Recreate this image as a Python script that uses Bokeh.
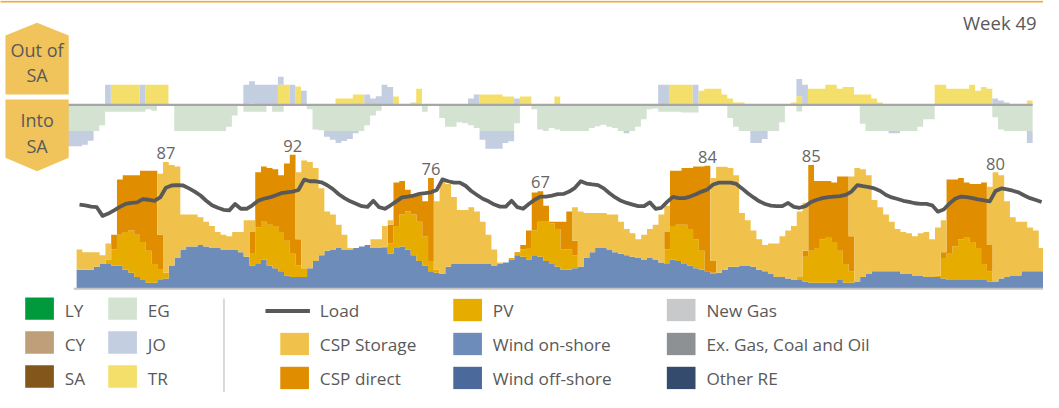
import numpy as np
from bokeh.plotting import figure
from bokeh.models import Range1d
from bokeh.embed import file_html
from bokeh.resources import INLINE
from bokeh.core.properties import value

# ---------------------------------------------------------------- data
week_label = "Week 49"
hours = list(range(168))

wind_onshore = [
    13, 13, 13, 15, 17, 17, 16, 16, 13, 11, 8, 6, 4, 4, 6, 7, 16, 21, 27, 29, 29, 30, 29, 28,
    28, 27, 27, 27, 25, 22, 16, 17, 20, 16, 14, 12, 9, 8, 8, 8, 14, 19, 23, 26, 27, 28, 27, 27,
    28, 29, 30, 28, 28, 28, 24, 28, 29, 27, 23, 19, 16, 12, 11, 10, 15, 17, 17, 17, 17, 17, 17, 17,
    16, 17, 18, 20, 23, 22, 20, 23, 22, 19, 17, 15, 13, 13, 14, 15, 21, 25, 28, 28, 27, 25, 24, 23,
    22, 21, 20, 21, 20, 18, 17, 20, 19, 17, 16, 14, 13, 12, 10, 11, 13, 15, 15, 16, 16, 15, 13, 12,
    10, 8, 8, 7, 6, 6, 5, 4, 4, 4, 4, 4, 6, 4, 4, 5, 8, 10, 12, 12, 12, 12, 12, 10,
    10, 9, 9, 8, 8, 8, 7, 6, 6, 6, 6, 6, 6, 6, 5, 5, 7, 8, 9, 9, 12, 12, 12, 12,
]
pv = [
    0, 0, 0, 0, 0, 3, 11, 21, 26, 29, 29, 26, 22, 13, 7, 4, 0, 0, 0, 0, 0, 0, 0, 0,
    0, 0, 0, 0, 0, 0, 8, 25, 26, 28, 29, 27, 24, 16, 8, 6, 0, 0, 0, 0, 0, 0, 0, 0,
    0, 0, 0, 0, 0, 1, 7, 15, 22, 26, 28, 27, 20, 7, 2, 0, 0, 0, 0, 0, 0, 0, 0, 0,
    0, 0, 0, 1, 1, 5, 8, 17, 24, 27, 28, 26, 14, 14, 9, 0, 0, 0, 0, 0, 0, 0, 0, 0,
    0, 0, 0, 0, 0, 0, 10, 23, 25, 27, 25, 20, 13, 0, 1, 0, 0, 0, 0, 0, 0, 0, 0, 0,
    0, 0, 0, 0, 0, 2, 17, 22, 24, 30, 31, 28, 20, 13, 8, 0, 0, 0, 0, 0, 0, 0, 0, 0,
    0, 0, 0, 0, 0, 1, 14, 18, 23, 28, 29, 26, 22, 11, 7, 0, 0, 0, 0, 0, 0, 0, 0, 0,
]
csp_direct = [
    0, 0, 0, 0, 0, 0, 10, 38, 39, 38, 41, 49, 55, 64, 24, 0, 0, 0, 0, 0, 0, 0, 0, 0,
    0, 0, 0, 0, 0, 0, 15, 38, 38, 39, 39, 39, 53, 68, 18, 0, 0, 0, 0, 0, 0, 0, 0, 0,
    0, 0, 0, 0, 0, 0, 13, 30, 23, 15, 13, 18, 24, 57, 0, 0, 0, 0, 0, 0, 0, 0, 0, 0,
    0, 0, 0, 0, 1, 3, 12, 26, 21, 11, 1, 5, 19, 26, 10, 0, 0, 0, 0, 0, 0, 0, 0, 0,
    0, 0, 0, 0, 0, 0, 12, 38, 37, 39, 42, 50, 58, 72.4, 8, 0, 0, 0, 0, 0, 0, 0, 0, 0,
    0, 0, 0, 0, 0, 0, 4, 59, 46, 40, 39, 41, 51, 60, 24, 0, 0, 0, 0, 0, 0, 0, 0, 0,
    0, 0, 0, 0, 0, 0, 4, 51, 46, 42, 38, 40, 44, 56, 18, 0, 0, 0, 0, 0, 0, 0, 0, 0,
]
csp_storage = [
    14, 12, 12, 10, 6, 11, 0, 0, 0, 0, 0, 0, 0, 0, 42, 76, 69, 63, 24, 22, 22, 19, 17, 15,
    11, 10, 9, 12, 14, 25, 8, 0, 0, 0, 0, 0, 0, 0, 46, 74, 73, 64, 46, 27, 24, 16, 10, 1,
    0, 0, 0, 6, 6, 14, 3, 0, 0, 0, 0, 0, 0, 0, 47, 64, 57, 46, 37, 37, 39, 36, 29, 20,
    11, 1, 0, 0, 0, 0, 0, 0, 0, 0, 0, 0, 0, 0, 23, 38, 31, 27, 24, 24, 24, 26, 22, 18,
    16, 13, 17, 20, 24, 33, 18, 0, 0, 0, 0, 0, 0, 0, 57, 72.8, 70.8, 68, 63, 36, 31, 25, 21, 18,
    21, 23, 28, 33, 37, 45, 33, 0, 0, 0, 0, 0, 0, 0, 41, 78, 74, 68, 49, 44, 39, 34, 29, 29,
    28, 27, 29, 31, 26, 33, 22, 0, 0, 0, 0, 0, 0, 0, 40, 75, 71, 52, 40, 37, 34, 30, 28, 16,
]
load = [
    57.8, 57.3, 56.4, 56, 50, 51.6, 53.8, 56.2, 58.2, 58.9, 59.3, 61.6, 61.1, 60.4, 62.7, 69.3, 70.9, 71.1, 70.9, 68.9, 66.7, 64, 60.4, 57.3,
    55.6, 54.2, 53.8, 58.2, 54.9, 54.9, 57.3, 60.4, 61.8, 62.7, 64, 65.6, 66.2, 66.7, 67.8, 74.9, 73.8, 73.8, 73.1, 71.1, 68.4, 64.9, 62.2, 60,
    58.4, 56.7, 56.2, 60.4, 56, 54.9, 57.3, 60, 62.7, 63.3, 64, 65.1, 65.6, 66.2, 67.8, 75.1, 73.8, 72.9, 72.9, 70.7, 67.1, 64.4, 61.8, 60,
    57.8, 56.4, 56.4, 60.4, 56, 54.9, 58.2, 61.1, 63.3, 63.3, 64, 64.9, 65.1, 66.7, 69.3, 73.8, 72.2, 71.6, 71.1, 68.9, 65.6, 62.7, 60.4, 58.9,
    57.8, 56.7, 56.7, 59.3, 54.9, 55.6, 59.6, 63.1, 62.2, 62.2, 63.3, 64.9, 66.7, 68.2, 71.6, 72.9, 72.9, 72.9, 72, 68.9, 65.6, 62.7, 60, 58.2,
    57.1, 56.7, 56.7, 58.9, 56.2, 55.6, 56.7, 59.6, 61.1, 62.2, 62.9, 63.3, 63.6, 64.4, 66.7, 71.1, 70.4, 69.8, 68.9, 67.1, 64.4, 62.7, 61.6, 60.4,
    59.6, 58.7, 58.2, 58.2, 57.3, 52.9, 54.4, 58.4, 61.8, 63.3, 62.9, 62.2, 61.3, 60.7, 60, 67.1, 68.9, 68.2, 67.3, 66.2, 64, 62.2, 60.9, 59.6,
]
peak_labels = [87, 92, 76, 67, 84, 85, 80]

# exchanges (positive = out of SA, negative = into SA)
eg = [
    -18, -18, -18, -18, -18, -18, -14, -4.8, -4.8, -4.8, -4.8, -4.8, -4.8, -4.8, -3, -4, 0, 0, 0, -18, -18, -18, -18, -18,
    -18, -18, -18, -18, -15, -7.4, 0, -4.8, -4.8, -4.8, -4.8, 0, -4.8, -4.8, 0, 0, 0, 0, -3, -17, -17.5, -18, -18, -18,
    -18, -18, -18, -18, -14, -7.4, -4, 0, 0, 0, 0, 0, 0, 0, -4.8, 0, 0, -9, -15, -15, -12, -12.6, -14, -16,
    -18, -18, -18, -18, -18, -18, -12.6, 0, 0, -3, -17, -18, -16, -17, -18, -18, -18, -18, -18, -16, -14.8, -13.7, -15, -16,
    -18, -18, -18, -15, -10, -3, -2.6, -4.8, -4.8, -4.8, -4.8, -5.3, -5.3, -5.3, 0, 0, 0, 0, 0, -9, -15, -18, -18, -18,
    -18, -18, -18, -18, -12, 0, 0, -4.6, 0, 0, 0, 0, 0, 0, 0, 0, 0, 0, -13, -18, -18, -18, -18, -18,
    -18, -18, -18, -18, -15, -10, -10, 0, 0, 0, 0, 0, 0, 0, 0, 0, 0, -8.5, -17, -18, -18, -18, -18, -18,
]
jo = [
    -10.4, -10.4, -10.4, -9.5, -6.7, 0, 0, 13.7, 0, 0, 0, 0, 0, 13.7, 0, 0, 0, 0, 0, 0, 0, 0, 0, 0,
    0, 0, 0, 0, 0, 0, 0, 13.7, 14.8, 13.7, 13.7, 13.7, 13.7, 5.5, 0, 13.7, 0, 9.7, 0, 0, 0, -4, -6, -8.2,
    -6.9, -5.5, -1.5, 0, 7, 4.3, 5.9, 13.7, 12.3, 0, 0, 0, 0, 0, 0, 0, 0, 0, 0, 0, 0, 0, 4.3, 7,
    -6, -12.2, -12.2, -12.2, -8.2, -7.1, 4.3, 0, 0, 0, 0, 0, 0, 0, 0, 0, 0, 0, 0, 0, 0, 0, 0, 0,
    0, -1.5, 0, 0, 0, 0, 0, 13.7, 13.7, 0, 0, 0, 0, 13.7, 0, 0, 0, 0, 0, 0, 0, 0, 0, -8.2,
    -8.2, -5.5, 0, 0, 0, 0, 0, 11.8, 13.7, 0, 0, 0, 0, 0, 0, 0, 0, 0, 0, 0, 0, 0, 0, -1.5,
    -1.5, 0, 0, 0, 0, 0, 0, 0, 0, 0, 0, 0, 0, 0, 0, 0, 0, 4.3, 3, 1.5, 0, 0, 0, -8.2,
]
tr = [
    0, 0, 0, 0, 0, 0, 0, 0, 13.7, 13.7, 13.7, 13.7, 13.7, 0, 13.7, 13.7, 13.7, 13.7, 0, 0, 0, 0, 0, 0,
    0, 0, 0, 0, 0, 0, 0, 0, 1.3, 0, 0, 0, 0, 13.7, 13.7, 0, 12.5, 0, 0, 0, 0, 0, 0, 4.3,
    4.3, 4.3, 7, 7, 0, 0, 0, 0, 0, 5.7, 0, 0, 1.5, 11, 0, 0, 0, 0, 0, 0, 0, 0, 0, 0,
    7, 7, 7, 7, 5.7, 5.7, 0, 5.7, 5.7, 0, 0, 0, 0, 5.7, 0, 0, 0, 0, 0, 0, 0, 0, 0, 0,
    0, 0, 0, 0, 0, 0, 0, 0, 0, 13.7, 13.7, 13.7, 13.7, 0, 9.7, 11, 11, 11, 7, 4.3, 1.5, 1.5, 0, 0,
    0, 0, 0, 0, 0, 0, 1.5, 5.9, 0, 11, 11, 11, 13.7, 13.7, 11, 12.3, 12.3, 7, 7, 7, 4.3, 1.5, 0, 0,
    0, 0, 0, 0, 0, 0, 0, 13.7, 13.7, 11, 11, 11, 11, 13.7, 9.7, 12.3, 11, 0, 0, 0, 0, 0, 0, 3,
]

exchange_legend = [("LY", "#009A3D"), ("CY", "#BF9F79"), ("SA", "#83561C"),
                   ("EG", "#D3E2D1"), ("JO", "#C3CEE1"), ("TR", "#F5DF6B")]
gen_legend = [("CSP Storage", "#F0C24B"), ("CSP direct", "#E18D00"),
              ("PV", "#E6AC00"), ("Wind on-shore", "#6E8CB9"), ("Wind off-shore", "#4B6A9B"),
              ("New Gas", "#C8C9CA"), ("Ex. Gas, Coal and Oil", "#8E9194"), ("Other RE", "#344B6E")]
COL = dict(exchange_legend + gen_legend)
TEXT = "#595959"
FONT = value("Open Sans")

# ---------------------------------------------------------------- layout (reference-pixel frame)
W, H = 1043, 392
PX_X0, PX_X1, PX_Y0, PX_Y1 = 4, 1059, 3, 407
HOUR_W = 979 / 168
GEN_X0, GEN_BASE, GEN_SCALE = 81, 300, 1.5
EX_X0, EX_BASE, EX_SCALE = 69, 110.5, 1.5

p = figure(width=W, height=H, output_backend="svg", toolbar_location=None, tools="",
           x_axis_location=None, y_axis_location=None, min_border=0,
           outline_line_color=None, background_fill_color="white", border_fill_color="white",
           x_range=Range1d((PX_X0 - GEN_X0) / HOUR_W, (PX_X1 - GEN_X0) / HOUR_W),
           y_range=Range1d((GEN_BASE - PX_Y1) / GEN_SCALE, (GEN_BASE - PX_Y0) / GEN_SCALE))
p.grid.visible = False
p.extra_x_ranges = {"ex": Range1d((PX_X0 - EX_X0) / HOUR_W, (PX_X1 - EX_X0) / HOUR_W),
                    "px": Range1d(PX_X0, PX_X1)}
p.extra_y_ranges = {"ey": Range1d((EX_BASE - PX_Y1) / EX_SCALE, (EX_BASE - PX_Y0) / EX_SCALE),
                    "py": Range1d(PX_Y1, PX_Y0)}
PX = dict(x_range_name="px", y_range_name="py")
EX = dict(x_range_name="ex", y_range_name="ey")

x = np.array(hours, dtype=float)


def step_band(bottom, top, color, **kw):
    """one seamless hourly step polygon between bottom and top"""
    xs_top = np.column_stack([x, x + 1]).ravel()
    ys_top = np.repeat(top, 2)
    ys_bot = np.repeat(bottom, 2)
    xs = np.concatenate([xs_top, xs_top[::-1]])
    ys = np.concatenate([ys_top, ys_bot[::-1]])
    p.patch(x=xs, y=ys, fill_color=color, line_color=None, **kw)


# ---------------------------------------------------------------- generation stack
base = np.zeros(168)
for name, vals in [("Wind on-shore", wind_onshore), ("PV", pv),
                   ("CSP direct", csp_direct), ("CSP Storage", csp_storage)]:
    v = np.array(vals, dtype=float)
    step_band(base, base + v, COL[name])
    base = base + v
total = base

# ---------------------------------------------------------------- exchanges
pos = np.zeros(168)
neg = np.zeros(168)
for name, vals in [("EG", eg), ("TR", tr), ("JO", jo)]:
    v = np.array(vals, dtype=float)
    vp = np.clip(v, 0, None)
    vn = np.clip(v, None, 0)
    if vp.any():
        step_band(pos, pos + vp, COL[name], **EX)
    if vn.any():
        step_band(neg, neg + vn, COL[name], **EX)
    pos = pos + vp
    neg = neg + vn

# baselines
p.line(x=[0, 168], y=[0, 0], line_color="#A6A6A6", line_width=2.2, **EX)
p.line(x=[-0.5, 168], y=[0, 0], line_color="#C4C4C4", line_width=2)

# load
p.line(x=x + 0.5, y=load, line_color="#595959", line_width=3.8, line_join="round")

# daily peak labels
lx, ly = [], []
for d in range(7):
    seg = total[d * 24:(d + 1) * 24]
    i = int(np.argmax(seg))
    lx.append(d * 24 + i + 0.5)
    ly.append(seg[i] + 6)
p.text(x=lx, y=ly, text=[str(v) for v in peak_labels], text_font=FONT,
       text_font_size="16.5px", text_align="center", text_baseline="alphabetic",
       text_color="#666666")

# ---------------------------------------------------------------- decorations
p.line(x=[3, 1059], y=[4.2, 4.2], line_color="#F0A93B", line_width=1.8, **PX)
p.text(x=[1052], y=[26], text=[week_label], text_font=FONT, text_font_size="18.5px",
       text_align="right", text_baseline="middle", text_color=TEXT, **PX)

p.patches(xs=[[9, 9, 41, 73, 73], [9, 73, 73, 41, 9]],
          ys=[[100, 39, 26, 39, 100], [105, 105, 165, 179, 165]],
          fill_color="#F1C35B", line_color=None, **PX)
p.text(x=[41, 41, 41, 41], y=[54, 80, 126, 153], text=["Out of", "SA", "Into", "SA"],
       text_font=FONT, text_font_size="18px", text_align="center", text_baseline="middle",
       text_color=TEXT, **PX)

# ---------------------------------------------------------------- legend
rows_l = [320.5, 355.5, 390.5]
rows_r = [322.0, 357.0, 392.0]
sq_w, sq_h = 29, 23


def legend_square(x0, yc, color):
    p.quad(left=[x0], right=[x0 + sq_w], top=[yc - sq_h / 2], bottom=[yc + sq_h / 2],
           fill_color=color, line_color=None, **PX)


def legend_text(x0, yc, label):
    p.text(x=[x0], y=[yc + 1], text=[label], text_font=FONT, text_font_size="17.2px",
           text_align="left", text_baseline="middle", text_color=TEXT, **PX)


for k, (label, color) in enumerate(exchange_legend):
    col, row = divmod(k, 3)
    sx = [29, 113][col]
    legend_square(sx, rows_l[row], color)
    legend_text(sx + 40, rows_r[row], label)

p.line(x=[230, 230], y=[310, 410], line_color="#D9D9D9", line_width=2, **PX)

p.line(x=[272, 317], y=[rows_r[0] + 1, rows_r[0] + 1], line_color="#595959", line_width=4, **PX)
legend_text(327, rows_r[0], "Load")
slots = [(287, 1), (287, 2), (462, 0), (462, 1), (462, 2), (678, 0), (678, 1), (678, 2)]
for (label, color), (sx, row) in zip(gen_legend, slots):
    legend_square(sx, rows_r[row], color)
    legend_text(sx + 40, rows_r[row], label)

open("out.html", "w").write(file_html(p, INLINE))
